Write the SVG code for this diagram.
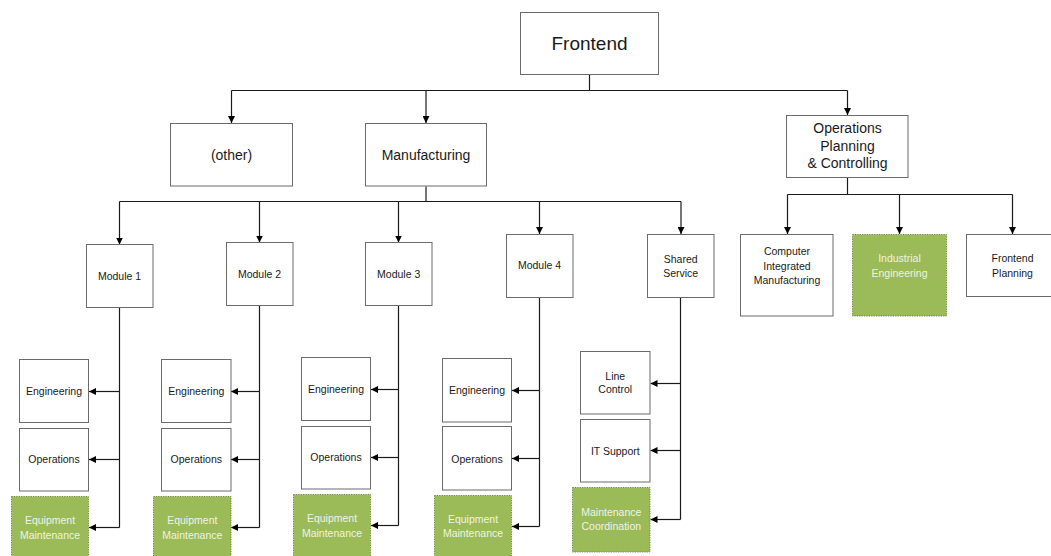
<svg xmlns="http://www.w3.org/2000/svg" width="1051" height="556" viewBox="0 0 1051 556">
  <style>
    .box { fill: #ffffff; stroke: #6b6b6b; stroke-width: 1; }
    .green { fill: #9bbb59; stroke: #71893f; stroke-width: 1; stroke-dasharray: 1.2 1.2; }
    .t { font-family: "Liberation Sans", Arial, sans-serif; fill: #1a1a1a; text-anchor: middle; dominant-baseline: central; }
    .tg { font-family: "Liberation Sans", Arial, sans-serif; fill: #eef3e3; text-anchor: middle; dominant-baseline: central; }
    .s { font-size: 10.5px; }
    .m { font-size: 14px; }
    .l { font-size: 19px; }
    .c { fill: none; stroke: #1a1a1a; stroke-width: 1.2; }
    .a { marker-end: url(#arrow); }
  </style>
  <defs>
    <marker id="arrow" viewBox="0 0 10 10" refX="10" refY="5" markerWidth="7" markerHeight="7" markerUnits="userSpaceOnUse" orient="auto">
      <path d="M0,0 L10,5 L0,10 z" fill="#000000"/>
    </marker>
  </defs>
  <rect width="1051" height="556" fill="#ffffff"/>

  <!-- connectors -->
  <g id="connectors">
    <!-- Frontend to level 2 -->
    <path class="c" d="M589.5,74.5 V90.5"/>
    <path class="c" d="M231.5,90.5 H847.5"/>
    <path class="c a" d="M231.5,90.5 V123"/>
    <path class="c a" d="M426,90.5 V123"/>
    <path class="c a" d="M847.5,90.5 V115"/>
    <!-- Manufacturing to modules -->
    <path class="c" d="M426,186.5 V201.5"/>
    <path class="c" d="M119.5,201.5 H681"/>
    <path class="c a" d="M119.5,201.5 V244.5"/>
    <path class="c a" d="M259.5,201.5 V242.5"/>
    <path class="c a" d="M398.5,201.5 V242.5"/>
    <path class="c a" d="M539.5,201.5 V234"/>
    <path class="c a" d="M681,201.5 V234"/>
    <!-- Operations Planning to its units -->
    <path class="c" d="M847.5,178 V194.5"/>
    <path class="c" d="M787.5,194.5 H1012.5"/>
    <path class="c a" d="M787.5,194.5 V234"/>
    <path class="c a" d="M899.5,194.5 V234"/>
    <path class="c a" d="M1012.5,194.5 V234"/>
    <!-- Module 1 -->
    <path class="c" d="M119.5,307.5 V527.5"/>
    <path class="c a" d="M119.5,391.5 H89"/>
    <path class="c a" d="M119.5,459.5 H89"/>
    <path class="c a" d="M119.5,527.5 H89"/>
    <!-- Module 2 -->
    <path class="c" d="M259.5,305.5 V527.5"/>
    <path class="c a" d="M259.5,391.5 H231"/>
    <path class="c a" d="M259.5,459.5 H231"/>
    <path class="c a" d="M259.5,527.5 H231"/>
    <!-- Module 3 -->
    <path class="c" d="M398.5,305.5 V525.5"/>
    <path class="c a" d="M398.5,389.5 H371"/>
    <path class="c a" d="M398.5,457.5 H371"/>
    <path class="c a" d="M398.5,525.5 H371"/>
    <!-- Module 4 -->
    <path class="c" d="M539.5,297.5 V526.5"/>
    <path class="c a" d="M539.5,390.5 H512"/>
    <path class="c a" d="M539.5,458.5 H512"/>
    <path class="c a" d="M539.5,526.5 H512"/>
    <!-- Shared Service -->
    <path class="c" d="M680.5,297.5 V519.5"/>
    <path class="c a" d="M680.5,383.5 H650.5"/>
    <path class="c a" d="M680.5,450.5 H650.5"/>
    <path class="c a" d="M680.5,519.5 H650.5"/>
  </g>

  <!-- top level -->
  <g id="frontend">
    <rect class="box" x="520.5" y="12.5" width="138" height="62"/>
    <text class="t l" x="589.5" y="43.5">Frontend</text>
  </g>

  <!-- level 2 -->
  <g id="other">
    <rect class="box" x="170.5" y="123.5" width="122" height="62.5"/>
    <text class="t m" x="231.5" y="155">(other)</text>
  </g>
  <g id="manufacturing">
    <rect class="box" x="365.5" y="123.5" width="121" height="62.5"/>
    <text class="t m" x="426" y="155">Manufacturing</text>
  </g>
  <g id="ops-planning">
    <rect class="box" x="786.5" y="115.5" width="121.5" height="62"/>
    <text class="t m" x="847.5" y="128">Operations</text>
    <text class="t m" x="847.5" y="145.7">Planning</text>
    <text class="t m" x="847.5" y="163.3">&amp; Controlling</text>
  </g>

  <!-- Operations Planning units -->
  <g id="cim">
    <rect class="box" x="740.5" y="234.5" width="92.5" height="81.5"/>
    <text class="t s" x="787" y="251.3">Computer</text>
    <text class="t s" x="787" y="265.5">Integrated</text>
    <text class="t s" x="787" y="280">Manufacturing</text>
  </g>
  <g id="industrial-engineering">
    <rect class="green" x="852.5" y="234.5" width="94" height="81.5"/>
    <text class="tg s" x="899.5" y="258.3">Industrial</text>
    <text class="tg s" x="899.5" y="272.7">Engineering</text>
  </g>
  <g id="frontend-planning">
    <rect class="box" x="966.5" y="234.5" width="92" height="62"/>
    <text class="t s" x="1012.5" y="258.3">Frontend</text>
    <text class="t s" x="1012.5" y="272.7">Planning</text>
  </g>

  <!-- modules -->
  <g id="module-1">
    <rect class="box" x="86.5" y="244.5" width="66.5" height="63"/>
    <text class="t s" x="119.5" y="276">Module 1</text>
  </g>
  <g id="module-2">
    <rect class="box" x="226.5" y="242.5" width="66.5" height="63"/>
    <text class="t s" x="259.5" y="274">Module 2</text>
  </g>
  <g id="module-3">
    <rect class="box" x="365.5" y="242.5" width="66.5" height="63"/>
    <text class="t s" x="398.7" y="274">Module 3</text>
  </g>
  <g id="module-4">
    <rect class="box" x="506.5" y="234.5" width="66.5" height="63"/>
    <text class="t s" x="539.5" y="265">Module 4</text>
  </g>
  <g id="shared-service">
    <rect class="box" x="647.5" y="234.5" width="66.5" height="63"/>
    <text class="t s" x="680.7" y="258.7">Shared</text>
    <text class="t s" x="680.7" y="272.7">Service</text>
  </g>

  <!-- Module 1 units -->
  <g id="m1-engineering">
    <rect class="box" x="19.5" y="359.5" width="69" height="63"/>
    <text class="t s" x="54" y="391.3">Engineering</text>
  </g>
  <g id="m1-operations">
    <rect class="box" x="19.5" y="428.5" width="69" height="62.5"/>
    <text class="t s" x="54" y="459.3">Operations</text>
  </g>
  <g id="m1-maintenance">
    <rect class="green" x="11.5" y="496.5" width="77" height="64"/>
    <text class="tg s" x="50" y="520">Equipment</text>
    <text class="tg s" x="50" y="534.7">Maintenance</text>
  </g>

  <!-- Module 2 units -->
  <g id="m2-engineering">
    <rect class="box" x="161.5" y="359.5" width="69.5" height="63"/>
    <text class="t s" x="196.3" y="391.3">Engineering</text>
  </g>
  <g id="m2-operations">
    <rect class="box" x="161.5" y="428.5" width="69.5" height="62.5"/>
    <text class="t s" x="196.3" y="459.3">Operations</text>
  </g>
  <g id="m2-maintenance">
    <rect class="green" x="153.5" y="496.5" width="77.5" height="64"/>
    <text class="tg s" x="192.3" y="520">Equipment</text>
    <text class="tg s" x="192.3" y="534.7">Maintenance</text>
  </g>

  <!-- Module 3 units -->
  <g id="m3-engineering">
    <rect class="box" x="301.5" y="357.5" width="69" height="63"/>
    <text class="t s" x="336" y="389.3">Engineering</text>
  </g>
  <g id="m3-operations">
    <rect class="box" x="301.5" y="426.5" width="69" height="62.5"/>
    <text class="t s" x="336" y="457.3">Operations</text>
  </g>
  <g id="m3-maintenance">
    <rect class="green" x="293.5" y="494.5" width="77" height="64"/>
    <text class="tg s" x="332" y="518.3">Equipment</text>
    <text class="tg s" x="332" y="532.5">Maintenance</text>
  </g>

  <!-- Module 4 units -->
  <g id="m4-engineering">
    <rect class="box" x="442.5" y="358.5" width="69" height="63.5"/>
    <text class="t s" x="477" y="390.3">Engineering</text>
  </g>
  <g id="m4-operations">
    <rect class="box" x="442.5" y="426.5" width="69" height="63.5"/>
    <text class="t s" x="477" y="458.7">Operations</text>
  </g>
  <g id="m4-maintenance">
    <rect class="green" x="434.5" y="495.5" width="77" height="64"/>
    <text class="tg s" x="473" y="519">Equipment</text>
    <text class="tg s" x="473" y="533.3">Maintenance</text>
  </g>

  <!-- Shared Service units -->
  <g id="line-control">
    <rect class="box" x="580.5" y="351.5" width="69.5" height="62.5"/>
    <text class="t s" x="615.3" y="376">Line</text>
    <text class="t s" x="615.3" y="389.3">Control</text>
  </g>
  <g id="it-support">
    <rect class="box" x="580.5" y="419.5" width="69.5" height="62.5"/>
    <text class="t s" x="615.3" y="450.7">IT Support</text>
  </g>
  <g id="maintenance-coordination">
    <rect class="green" x="572.5" y="487.5" width="77.5" height="64.5"/>
    <text class="tg s" x="611.3" y="512">Maintenance</text>
    <text class="tg s" x="611.3" y="526">Coordination</text>
  </g>
</svg>
